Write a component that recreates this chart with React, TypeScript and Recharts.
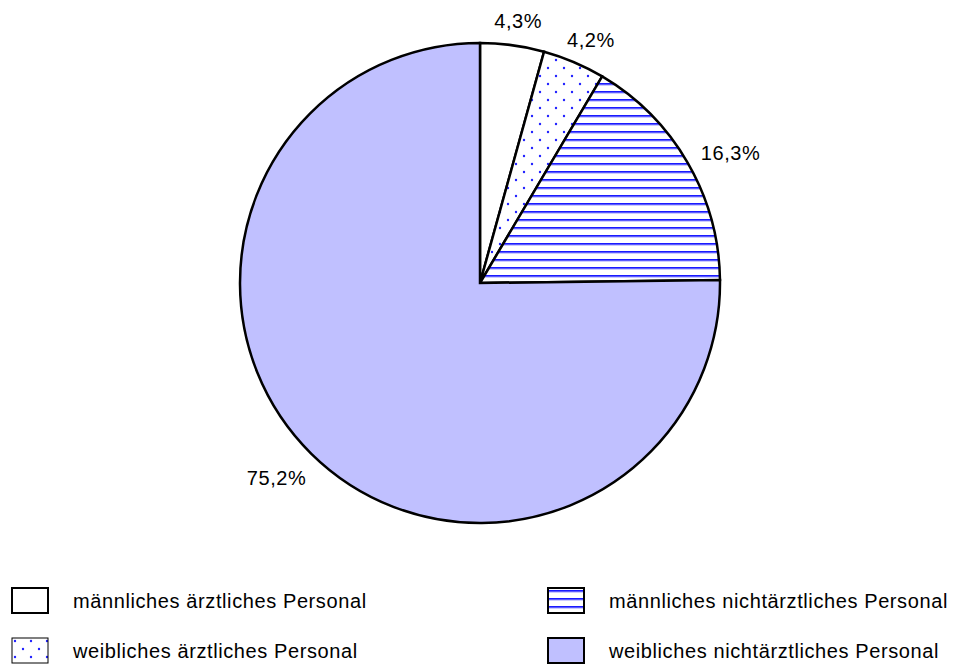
import { Cell, Legend, Pie, PieChart } from 'recharts';

const categories = [
  'männliches ärztliches Personal',
  'weibliches ärztliches Personal',
  'männliches nichtärztliches Personal',
  'weibliches nichtärztliches Personal',
];
const shares = [4.3, 4.2, 16.3, 75.2];
const shareLabels = ['4,3%', '4,2%', '16,3%', '75,2%'];

const fills = ['#ffffff', 'url(#dotsFill)', 'url(#linesFill)', '#c0c0ff'];

const data = categories.map((name, i) => ({ name, value: shares[i], label: shareLabels[i] }));

const RADIAN = Math.PI / 180;
const FONT = 'Arial, "Liberation Sans", Helvetica, sans-serif';

function renderLabel(props: any) {
  const { cx, cy, midAngle, outerRadius, index } = props;
  const text = shareLabels[index];
  const cos = Math.cos(-midAngle * RADIAN);
  const sin = Math.sin(-midAngle * RADIAN);
  const w = text.length * 11.8;
  const h = 16;
  const r = outerRadius + 20;
  const x = cx + r * cos + (w / 2) * cos;
  const y = cy + r * sin + (h / 2) * sin + 4;
  return (
    <text
      x={x}
      y={y}
      textAnchor="middle"
      dominantBaseline="central"
      fill="#000"
      fontSize={20}
      letterSpacing={0.6}
      fontFamily={FONT}
    >
      {text}
    </text>
  );
}

function Swatch({ index }: { index: number }) {
  const thin = index === 1;
  return (
    <svg width={40} height={28} style={{ display: 'block' }}>
      <rect
        x={1}
        y={1}
        width={36}
        height={25}
        fill={fills[index]}
        stroke="#000"
        strokeWidth={thin ? 1 : 2}
      />
    </svg>
  );
}

const legendPos = [
  { left: 11, top: 587 },
  { left: 11, top: 637 },
  { left: 547, top: 587 },
  { left: 547, top: 637 },
];

function LegendContent() {
  return (
    <div style={{ position: 'relative', width: 956, height: 665 }}>
      {categories.map((name, i) => (
        <div
          key={name}
          style={{
            position: 'absolute',
            left: legendPos[i].left,
            top: legendPos[i].top,
            display: 'flex',
            alignItems: 'center',
            height: 28,
          }}
        >
          <Swatch index={i} />
          <span
            style={{
              marginLeft: 22,
              fontSize: 20,
              letterSpacing: 0.6,
              fontFamily: FONT,
              color: '#000',
              whiteSpace: 'nowrap',
            }}
          >
            {name}
          </span>
        </div>
      ))}
    </div>
  );
}

export default function App() {
  return (
    <div style={{ position: 'absolute', left: 0, top: 0, width: 956, height: 665, background: '#fff' }}>
      <svg width={0} height={0} style={{ position: 'absolute' }}>
        <defs>
          <pattern id="dotsFill" width={16} height={16} patternUnits="userSpaceOnUse">
            <rect width={16} height={16} fill="#fff" />
            <circle cx={4} cy={4} r={1.2} fill="#2020ff" />
            <circle cx={12} cy={12} r={1.2} fill="#2020ff" />
          </pattern>
          <pattern id="linesFill" width={8} height={8} patternUnits="userSpaceOnUse">
            <rect width={8} height={8} fill="#fff" />
            <rect y={3} width={8} height={1.8} fill="#1a1aff" />
            <rect y={4.8} width={8} height={0.8} fill="#aaaaff" />
          </pattern>
        </defs>
      </svg>
      <PieChart width={956} height={665} margin={{ top: 0, right: 0, bottom: 0, left: 0 }}>
        <Pie
          data={data}
          dataKey="value"
          nameKey="name"
          cx={480}
          cy={283}
          outerRadius={240}
          startAngle={90}
          endAngle={-270}
          stroke="#000"
          strokeWidth={2.5}
          label={renderLabel}
          labelLine={false}
          isAnimationActive={false}
        >
          {data.map((d, i) => (
            <Cell key={d.name} fill={fills[i]} />
          ))}
        </Pie>
        <Legend
          content={<LegendContent />}
          wrapperStyle={{ position: 'absolute', left: 0, top: 0, width: 956, height: 665 }}
        />
      </PieChart>
    </div>
  );
}
